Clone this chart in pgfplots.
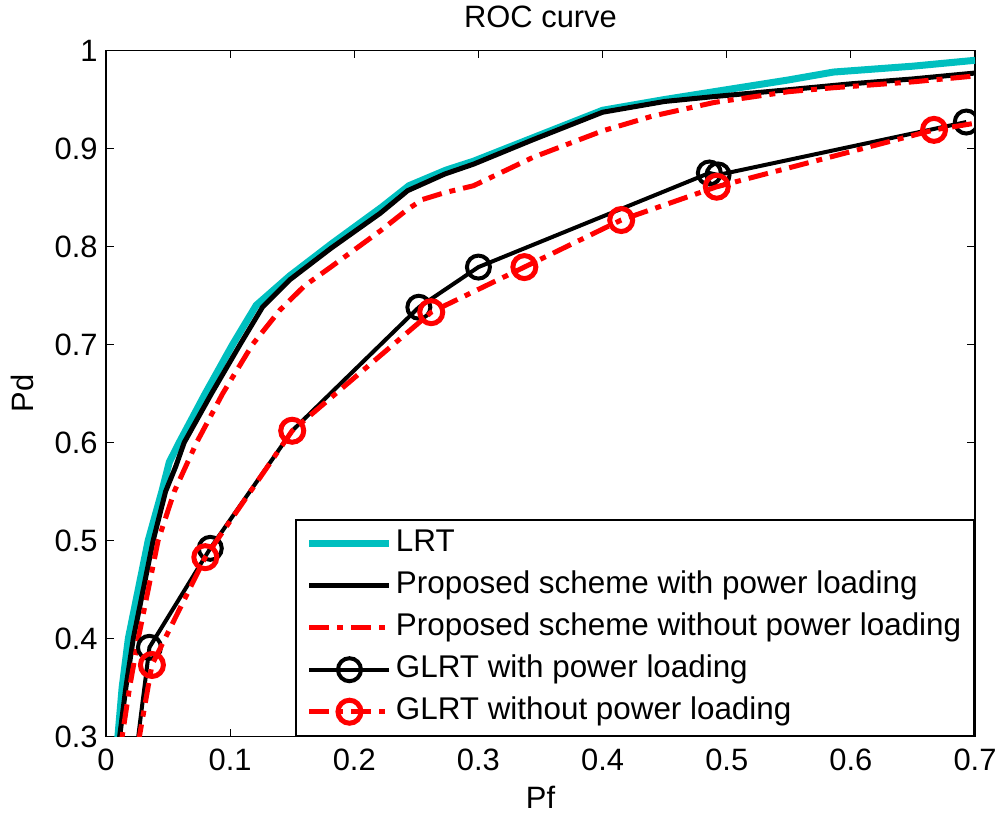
\documentclass[border=0pt]{standalone}
\usepackage{fontspec}
\setmainfont{Liberation Sans}
\usepackage{pgfplots}
\pgfplotsset{compat=1.18}
\definecolor{lrtc}{RGB}{0,191,191}
\newcommand{\ff}{\fontsize{15.5}{18}\selectfont}
\newcommand{\lf}{\fontsize{15.75}{18}\selectfont}
\begin{document}
\begin{tikzpicture}
\begin{axis}[
  name=ax,
  scale only axis,
  width=434.5bp, height=343bp,
  xmin=0, xmax=0.7, ymin=0.3, ymax=1,
  xtick={0,0.1,0.2,0.3,0.4,0.5,0.6,0.7},
  xticklabels={0,0.1,0.2,0.3,0.4,0.5,0.6,0.7},
  ytick={0.3,0.4,0.5,0.6,0.7,0.8,0.9,1},
  yticklabels={0.3,0.4,0.5,0.6,0.7,0.8,0.9,1},
  tick pos=both, tick align=inside, major tick length=4bp,
  axis line style={line width=0.8bp},
  every tick/.style={black, line width=0.6bp},
  /pgf/number format/assume math mode=true,
  ticklabel style={font=\ff},
  xticklabel style={anchor=base, inner sep=0pt, yshift=-16.75bp},
  yticklabel style={anchor=east, inner sep=0pt, xshift=-4bp},
  every axis title shift=0pt,
  title={ROC curve},
  title style={at={(axis description cs:0.5,1.0328)}, anchor=base, font=\ff, inner sep=0pt},
  xlabel={Pf},
  xlabel style={at={(axis description cs:0.5,-0.1042)}, anchor=base, font=\ff, inner sep=0pt},
  ylabel={Pd},
  ylabel style={at={(axis description cs:-0.084,0.5)}, anchor=base, font=\ff, inner sep=0pt},
  clip marker paths=true,
  legend cell align=left,
  legend style={at={(axis description cs:1,0)}, anchor=south east, draw=black, line width=0.8bp,
    fill=white, font=\lf, inner xsep=5bp, inner ysep=3bp, row sep=3bp,
    nodes={inner xsep=1.5bp, inner ysep=1.5bp, text height=11.5bp, text depth=3.5bp}},
  legend image code/.code={\draw[mark repeat=2,mark phase=2,#1] plot coordinates {(0bp,0bp) (20bp,0bp) (40bp,0bp)};},
]
% LRT
\addplot[lrtc, line width=3.5bp] coordinates {
(0.008,0.27) (0.0096,0.30) (0.013,0.35) (0.018,0.40) (0.026,0.45) (0.034,0.50) (0.045,0.55) (0.051,0.58)
(0.059,0.60) (0.080,0.65) (0.102,0.70) (0.121,0.74) (0.148,0.77) (0.182,0.803) (0.222,0.84)
(0.244,0.862) (0.274,0.878) (0.296,0.887) (0.344,0.911) (0.400,0.939) (0.450,0.950) (0.490,0.958)
(0.550,0.970) (0.586,0.978) (0.650,0.984) (0.700,0.990)
};
\addlegendentry{LRT}
% Proposed with PL
\addplot[black, line width=2.5bp] coordinates {
(0.009,0.27) (0.011,0.30) (0.016,0.35) (0.022,0.40) (0.030,0.45) (0.038,0.50) (0.048,0.55) (0.056,0.575)
(0.063,0.60) (0.085,0.65) (0.108,0.70) (0.126,0.738) (0.148,0.766) (0.181,0.798) (0.221,0.834)
(0.243,0.857) (0.273,0.874) (0.296,0.884) (0.344,0.909) (0.400,0.937) (0.450,0.948) (0.490,0.953)
(0.550,0.960) (0.600,0.966) (0.650,0.971) (0.700,0.977)
};
\addlegendentry{Proposed scheme with power loading}
% Proposed without PL
\addplot[red, line width=2.5bp, dash pattern=on 10bp off 4bp on 3bp off 4bp] coordinates {
(0.011,0.27) (0.013,0.30) (0.019,0.35) (0.026,0.40) (0.034,0.45) (0.042,0.50) (0.055,0.55) (0.073,0.60)
(0.094,0.65) (0.118,0.70) (0.140,0.735) (0.160,0.76) (0.181,0.779) (0.221,0.816) (0.243,0.838)
(0.255,0.848) (0.273,0.855) (0.296,0.862) (0.344,0.891) (0.400,0.918) (0.440,0.933) (0.490,0.947)
(0.550,0.958) (0.586,0.962) (0.650,0.968) (0.700,0.974)
};
\addlegendentry{Proposed scheme without power loading}
% GLRT with PL
\addplot[black, line width=2bp, mark=o, mark size=5.75bp, mark options={solid, line width=2bp}] coordinates {
(0.021,0.25) (0.035,0.391) (0.084,0.492) (0.150,0.612) (0.252,0.738) (0.300,0.779)
(0.486,0.875) (0.493,0.873) (0.693,0.927)
};
\addlegendentry{GLRT with power loading}
% GLRT without PL
\addplot[red, line width=2.5bp, dash pattern=on 10bp off 4bp on 3bp off 4bp, mark=o, mark size=5.75bp, mark options={solid, line width=2.5bp}] coordinates {
(0.020,0.25) (0.037,0.373) (0.080,0.483) (0.150,0.612) (0.262,0.733) (0.337,0.779)
(0.415,0.827) (0.492,0.861) (0.667,0.919) (0.740,0.934)
};
\addlegendentry{GLRT without power loading}
\end{axis}
\pgfresetboundingbox
\path[use as bounding box] ([xshift=-53bp,yshift=-39.75bp]ax.south west) rectangle ([xshift=12bp,yshift=25.25bp]ax.north east);
\end{tikzpicture}
\end{document}
